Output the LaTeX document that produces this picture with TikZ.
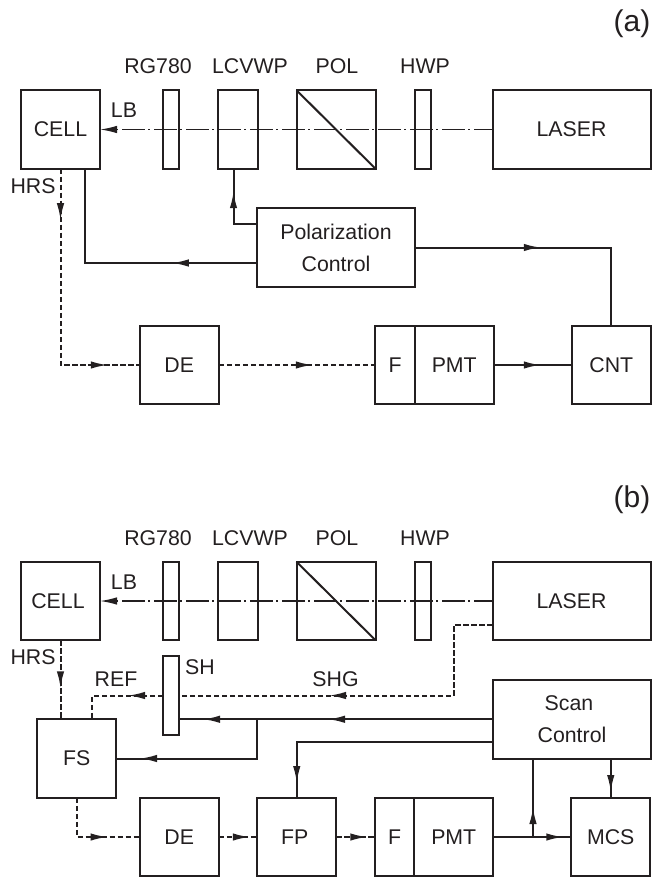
\documentclass[tikz,border=0pt]{standalone}
\usepackage{fontspec}
\setmainfont{Liberation Sans}
\usepackage{xcolor}
\usetikzlibrary{arrows.meta,positioning,calc,decorations.markings}
\definecolor{ink}{HTML}{231F20}

\begin{document}
\begin{tikzpicture}[x=1pt, y=-1pt, color=ink, text=ink, font=\fontsize{21.3}{32}\selectfont]
    \tikzset{
        sigtip/.tip = {Latex[length=17pt, width=7.5pt]},
        block/.style = {draw, rectangle, line width=2pt, outer sep=0pt, inner sep=0pt, align=center, minimum height=78.5pt, minimum width=79pt},
        plate/.style = {block, minimum width=16pt},
        wave/.style = {block, minimum width=40pt},
        wide/.style = {block, minimum width=158pt},
        line/.style = {line width=2pt, line join=miter},
        dashline/.style = {line, dash pattern=on 5.5pt off 2.5pt},
        beam/.style = {line width=1.4pt, -{sigtip}, dash pattern=on 23pt off 4pt on 2pt off 3pt, dash phase=4pt},
        tipat/.style = {postaction={decorate, decoration={markings, mark=at position #1 with {\arrow{sigtip}}}}},
        lab/.style = {inner sep=0pt}
    }
    \useasboundingbox (0,0) rectangle (652,877);

    % Panel (a)
    \node [lab, font=\fontsize{30}{32}\selectfont] (taga) at (632,24) {(a)};
    \node [block] (cella) at (60.5,129.5) {CELL};
    \node [plate, right=62.5pt of cella] (rga) {};
    \node [wave, right=39pt of rga] (lca) {};
    \node [block, right=39pt of lca] (pola) {};
    \node [plate, right=39pt of pola] (hwpa) {};
    \node [wide, right=62pt of hwpa] (lasera) {LASER};
    \node [wide, minimum width=157.5pt] (ctrla) at (336,247.5) {Polarization\\Control};
    \node [block] (dea) at (179.25,365) {DE};
    \node [block, minimum width=39.5pt, right=156.5pt of dea] (fa) {F};
    \node [block, right=0pt of fa] (pmta) {PMT};
    \node [block, right=78pt of pmta] (cnta) {CNT};

    \node [lab] (lrga) at (158,66.5) {RG780};
    \node [lab] (llca) at (250,66.5) {LCVWP};
    \node [lab] (lpola) at (337,66.5) {POL};
    \node [lab] (lhwpa) at (425,66.5) {HWP};
    \node [lab] (lba) at (124,110) {LB};
    \node [lab] (hrsa) at (33,186) {HRS};

    \draw [line] (pola.north west) -- (pola.south east);
    \draw [beam] (lasera.west) -- (cella.east);
    \draw [dashline, tipat=51.5pt, tipat=243.5pt] (cella.south) |- (dea.west);
    \draw [dashline, tipat=94pt] (dea.east) -- (fa.west);
    \draw [line, tipat=85.5pt] ([yshift=-15.5pt]ctrla.west) -| ([xshift=24pt]cella.south);
    \draw [line, tipat=56.5pt] ([yshift=23.5pt]ctrla.west) -| ([xshift=-4pt]lca.south);
    \draw [line, tipat=126pt] (ctrla.east) -| (cnta.north);
    \draw [line, tipat=47pt] (pmta.east) -- (cnta.west);

    % Panel (b)
    \node [lab, font=\fontsize{30}{32}\selectfont] (tagb) at (632,500) {(b)};
    \node [block] (cellb) at (60.5,601) {CELL\hspace*{5pt}};
    \node [plate, right=62.5pt of cellb] (rgb) {};
    \node [wave, right=39pt of rgb] (lcb) {};
    \node [block, right=39pt of lcb] (polb) {};
    \node [plate, right=39pt of polb] (hwpb) {};
    \node [wide, right=62pt of hwpb] (laserb) {LASER};
    \node [plate, minimum height=79pt] (shb) at (171,695.5) {};
    \node [block] (fsb) at (76.75,758.5) {FS};
    \node [wide] (scanb) at (572,719.25) {Scan\hspace*{6pt}\\Control};
    \node [block] (deb) at (179.25,837) {DE};
    \node [block, right=38.5pt of deb] (fpb) {FP\hspace*{4pt}};
    \node [block, minimum width=39.5pt, right=38.5pt of fpb] (fb) {F};
    \node [block, right=0pt of fb] (pmtb) {PMT};
    \node [block, right=78pt of pmtb] (mcsb) {MCS};

    \node [lab] (lrgb) at (158,538) {RG780};
    \node [lab] (llcb) at (250,538) {LCVWP};
    \node [lab] (lpolb) at (337,538) {POL};
    \node [lab] (lhwpb) at (425,538) {HWP};
    \node [lab] (lbb) at (124,582) {LB};
    \node [lab] (hrsb) at (33,657) {HRS};
    \node [lab] (lshb) at (200,667) {SH};
    \node [lab] (refb) at (116,679) {REF};
    \node [lab] (shgb) at (335.5,679) {SHG};

    \coordinate (bendb) at ($(laserb.west)+(-39,24)$);
    \coordinate (forkb) at (fpb.west |- scanb.west);
    \coordinate (tapb) at ([xshift=-39pt]scanb.south |- pmtb.east);

    \draw [line] (polb.north west) -- (polb.south east);
    \draw [beam] (laserb.west) -- (cellb.east);
    \draw [dashline, tipat=48pt] (cellb.south) -- (cellb.south |- fsb.north);
    \draw [dashline, tipat=234pt] ([yshift=-24pt]laserb.west) -- (bendb) |- (shb.east);
    \draw [dashline, tipat=35pt] (shb.west) -| ([xshift=15.5pt]fsb.north);
    \draw [line, tipat=165pt, tipat=290pt] (scanb.west) -- (scanb.west -| shb.east);
    \draw [line, tipat=156.5pt] (forkb) |- (fsb.east);
    \draw [line, tipat=237pt] ([yshift=-23pt]scanb.west) -| (fpb.north);
    \draw [line, tipat=33.5pt] (scanb.south -| mcsb.north) -- (mcsb.north);
    \draw [line, tipat=70pt] (pmtb.east) -- (mcsb.west);
    \draw [line, tipat=30pt] (tapb) -- (tapb |- scanb.south);
    \draw [dashline, tipat=70pt] (fsb.south) |- (deb.west);
    \draw [dashline, tipat=31pt] (deb.east) -- (fpb.west);
    \draw [dashline, tipat=31pt] (fpb.east) -- (fb.west);
\end{tikzpicture}
\end{document}
